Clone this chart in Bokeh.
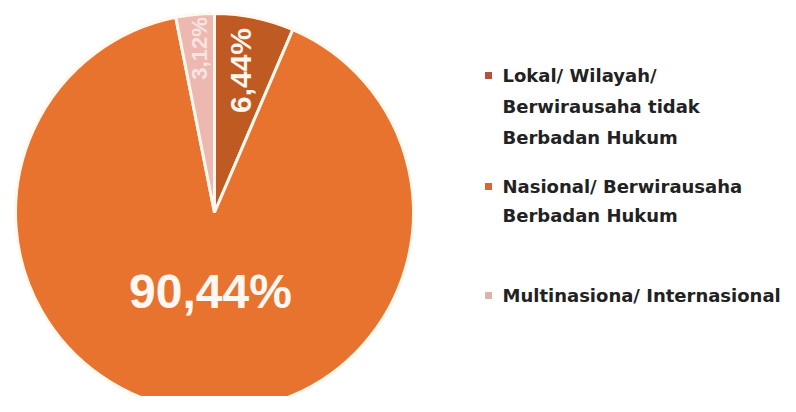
import math
from bokeh.plotting import figure
from bokeh.models import Range1d, ColumnDataSource
from bokeh.core.properties import value
from bokeh.embed import file_html
from bokeh.resources import INLINE

# ---- data ----
categories = ["Lokal/ Wilayah/\nBerwirausaha tidak\nBerbadan Hukum",
              "Nasional/ Berwirausaha\nBerbadan Hukum",
              "Multinasiona/ Internasional"]
shares = [6.44, 90.44, 3.12]
labels = ["6,44%", "90,44%", "3,12%"]
slice_colors = ["#BF5A22", "#E8732F", "#EDB8B0"]
legend_colors = ["#B5513F", "#DC6538", "#DDB3AB"]

W, H = 780, 396
p = figure(width=W, height=H, output_backend="svg", toolbar_location=None,
           x_range=Range1d(0, W), y_range=Range1d(0, H), min_border=0)
p.axis.visible = False
p.grid.visible = False
p.outline_line_color = None
p.background_fill_color = "white"
p.border_fill_color = "white"

cx, cy, r = 214, 184, 199
total = sum(shares)
starts, ends = [], []
a = math.pi / 2
for s in shares:
    starts.append(a)
    a = a - s / total * 2 * math.pi
    ends.append(a)

src = ColumnDataSource(dict(start=starts, end=ends, color=slice_colors))
p.wedge(x=cx, y=cy, radius=r, start_angle="start", end_angle="end",
        direction="clock", fill_color="color", line_color="#FFF8EE",
        line_width=3, source=src)

# slice labels
p.text(x=[cx + 26], y=[cy + 142], text=[labels[0]], angle=math.pi / 2,
       text_font=value("Liberation Sans"), text_font_style="bold",
       text_font_size="30px", text_color="#FFF6EE",
       text_align="center", text_baseline="middle")
p.text(x=[cx - 4], y=[cy - 79], text=[labels[1]],
       text_font=value("Liberation Sans"), text_font_style="bold",
       text_font_size="48px", text_color="#FFF8F2",
       text_align="center", text_baseline="middle")
p.text(x=[cx - 15], y=[cy + 164], text=[labels[2]], angle=math.pi / 2,
       text_font=value("Liberation Sans"), text_font_style="bold",
       text_font_size="22px", text_color="#F6E4E2",
       text_align="center", text_baseline="middle")

# legend
leg_x = 488
text_x = 502
first_y = [321, 210, 101]
spacing = [31, 29, 0]
for i, cat in enumerate(categories):
    p.scatter(x=[leg_x], y=[first_y[i]], marker="square", size=7,
              fill_color=legend_colors[i], line_color=None)
    for j, line in enumerate(cat.split("\n")):
        p.text(x=[text_x], y=[first_y[i] - j * spacing[i]], text=[line],
               text_font=value("DejaVu Sans"), text_font_style="bold",
               text_font_size="18px", text_color="#222222",
               text_align="left", text_baseline="middle")

open("out.html", "w").write(file_html(p, INLINE))
